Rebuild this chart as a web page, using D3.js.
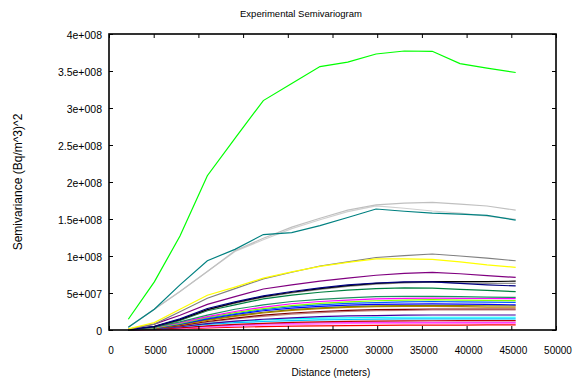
<!DOCTYPE html>
<html>
<head>
<meta charset="utf-8">
<script src="https://cdn.jsdelivr.net/npm/d3@7"></script>
<style>
  html, body { margin: 0; padding: 0; background: #fff; }
  svg { display: block; font-family: "Liberation Sans", Arial, sans-serif; }
</style>
</head>
<body>
<svg id="chart" width="579" height="382"></svg>
<script>
// lag distances (meters)
const lags = [2160, 5070, 7940, 11000, 14090, 17260, 20440, 23600, 26700, 29870, 33030, 36160, 39260, 42280, 45490];

// semivariance per series, in units of 1e6 (Bq/m^3)^2
const seriesColors = [
  "#ff0000", "#ff80ff", "#ff40ff", "#c00000", "#00c0ff", "#00ffff", "#4000a0",
  "#c08080", "#800000", "#c08000", "#808000", "#0000ff", "#0060ff", "#80ff00",
  "#ff00ff", "#209060", "#008040", "#909090", "#000000", "#000080", "#800080",
  "#808080", "#ffff00", "#d0d0d0", "#c0c0c0", "#008080", "#00ff00"
];
const seriesValues = [
  [0.1, 0.6, 1.5, 2.8, 3.8, 4.6, 5.2, 5.6, 6, 6.3, 6.5, 6.6, 6.7, 6.8, 6.8],
  [0.1, 0.8, 2.3, 4, 5.3, 6.5, 7.3, 8, 8.5, 8.8, 9, 9, 9, 9, 9],
  [0.1, 1, 2.8, 5, 6.5, 8, 9, 9.6, 10, 10.2, 10.4, 10.4, 10.4, 10.4, 10.4],
  [0.1, 1, 3, 5.5, 7.5, 9, 10.2, 11, 11.6, 12, 12.3, 12.5, 12.6, 12.6, 12.6],
  [0.1, 1.5, 4.5, 7.5, 10, 11.5, 12.8, 13.7, 14.2, 14.6, 14.9, 14.9, 14.9, 14.9, 14.9],
  [0.2, 2, 5.5, 9, 11.5, 13.5, 15, 16, 16.5, 17, 17.2, 17.2, 17.2, 17.2, 17.2],
  [0.2, 1.5, 4.5, 8.5, 12, 14.5, 16.5, 18, 19, 19.5, 20, 20.3, 20.3, 20.3, 20.3],
  [0.2, 2, 5.5, 10.5, 15, 18.5, 21.5, 23.5, 25, 26, 26.5, 27, 27, 27, 27],
  [0.3, 2, 6, 11.5, 16, 20, 23, 25, 26.5, 27.5, 28, 28.4, 28.4, 28.4, 28.4],
  [0.3, 2.5, 7, 13, 18.5, 23, 26.5, 29, 30.5, 31.5, 32, 32, 31.5, 31, 31],
  [0.3, 2.5, 7.5, 14, 19.5, 24, 27.5, 30, 31.5, 32.5, 33, 33.3, 33, 32.8, 32.8],
  [0.3, 2.8, 8, 15, 21, 26, 29.5, 32, 33.5, 34.5, 35, 35.2, 35, 34.5, 34],
  [0.4, 3, 8.5, 16, 22, 27.5, 31.5, 34, 36, 37, 38, 38.5, 38, 37.6, 37.4],
  [0.5, 3, 9, 17, 23.5, 29, 33, 36, 38, 39.5, 40.5, 41, 40.5, 40, 39.6],
  [0.5, 3.5, 10, 18, 25, 31, 35.5, 38.5, 40.5, 42, 42.8, 43, 42.8, 42.6, 42.4],
  [0.5, 4, 11, 20, 28, 34, 38.5, 41.5, 43.5, 45, 45.5, 45.5, 45, 44.5, 44],
  [0.5, 4, 13, 26, 34, 42, 47, 51, 54, 56, 57, 56.5, 55, 53.5, 51.8],
  [0.5, 4.5, 14, 27, 36, 44, 50, 55, 59, 62, 63.5, 64.5, 63.5, 63, 63],
  [0.5, 4.5, 14, 27.5, 37, 45, 51, 56, 60, 63, 64.5, 65.5, 65.5, 65.5, 66],
  [0.5, 5, 15, 29, 38, 46, 52, 57, 61, 63.5, 65, 65, 63, 61, 59.5],
  [1, 8, 20, 34.7, 45, 55.4, 61, 66, 70, 74, 76.5, 78, 76, 73.5, 71],
  [1, 8, 24.7, 43, 56, 69, 78, 86.5, 92, 98, 100.5, 102.7, 100, 97, 93.6],
  [1.5, 10, 28, 47, 58, 70, 78.5, 86, 91.5, 96, 96, 95.5, 92, 88, 84.7],
  [3.6, 28, 52, 79, 106, 122, 137, 149, 160, 167.6, 164.5, 160.8, 158, 154, 149.6],
  [3.6, 28, 52, 79, 107, 124, 139, 151, 162, 169, 171.5, 172.5, 170, 167.6, 162],
  [3.6, 28, 61, 93.6, 109, 129, 131.5, 141, 152, 163.5, 160.5, 158, 156.5, 155, 148.6],
  [14.5, 65, 127, 208.5, 259, 310, 333, 356, 362, 373, 377, 376.6, 360, 354, 348]
];

const xTicks = [0, 5000, 10000, 15000, 20000, 25000, 30000, 35000, 40000, 45000, 50000];
const yTicks = [0, 5e7, 1e8, 1.5e8, 2e8, 2.5e8, 3e8, 3.5e8, 4e8];

const width = 579, height = 382;
const margin = { top: 34, right: 23, bottom: 52, left: 109 };
const innerW = width - margin.left - margin.right;
const innerH = height - margin.top - margin.bottom;

const svg = d3.select("#chart");
const root = svg.append("g").attr("transform", `translate(${margin.left},${margin.top})`);

const x = d3.scaleLinear().domain([0, 50000]).range([0, innerW]);
const y = d3.scaleLinear().domain([0, 4e8]).range([innerH, 0]);

function sciLabel(v) {
  if (v === 0) return "0";
  const exp = Math.floor(Math.log10(v) + 1e-9);
  const mant = +(v / Math.pow(10, exp)).toFixed(2);
  return `${mant}e+${String(exp).padStart(3, "0")}`;
}

// series lines
const line = d3.line()
  .x((d, i) => x(lags[i]))
  .y((d) => y(d * 1e6));

root.append("g").attr("class", "lines")
  .selectAll("path")
  .data(seriesValues)
  .join("path")
  .attr("fill", "none")
  .attr("stroke", (d, i) => seriesColors[i])
  .attr("stroke-width", 1.2)
  .attr("d", line);

// axes with inward ticks
const gx = root.append("g").attr("transform", `translate(0,${innerH})`)
  .call(d3.axisBottom(x).tickValues(xTicks).tickSize(-4).tickPadding(17).tickFormat(d3.format("d")));
const gxTop = root.append("g")
  .call(d3.axisTop(x).tickValues(xTicks).tickSize(-4).tickFormat(""));
const gy = root.append("g")
  .call(d3.axisLeft(y).tickValues(yTicks).tickSize(-4).tickPadding(7).tickFormat(sciLabel));
const gyRight = root.append("g").attr("transform", `translate(${innerW},0)`)
  .call(d3.axisRight(y).tickValues(yTicks).tickSize(-4).tickFormat(""));

[gx, gxTop, gy, gyRight].forEach((g) => {
  g.select(".domain").remove();
  g.selectAll("line").attr("stroke", "#000");
  g.selectAll("text").attr("fill", "#000").style("font-size", "10.5px");
});
gx.selectAll("text").attr("dx", "1.5").style("font-size", "10px");
gy.selectAll("text").attr("dy", "0.42em");

root.append("rect")
  .attr("x", 0).attr("y", 0)
  .attr("width", innerW).attr("height", innerH)
  .attr("fill", "none")
  .attr("stroke", "#000")
  .attr("stroke-width", 1.6);

// titles
svg.append("text")
  .attr("x", 301).attr("y", 17)
  .attr("text-anchor", "middle")
  .style("font-size", "9.5px")
  .text("Experimental Semivariogram");

svg.append("text")
  .attr("x", 331).attr("y", 376)
  .attr("text-anchor", "middle")
  .style("font-size", "10px")
  .text("Distance (meters)");

svg.append("text")
  .attr("transform", `translate(22,${margin.top + innerH / 2}) rotate(-90)`)
  .attr("text-anchor", "middle")
  .style("font-size", "12px")
  .text("Semivariance (Bq/m^3)^2");
</script>
</body>
</html>
